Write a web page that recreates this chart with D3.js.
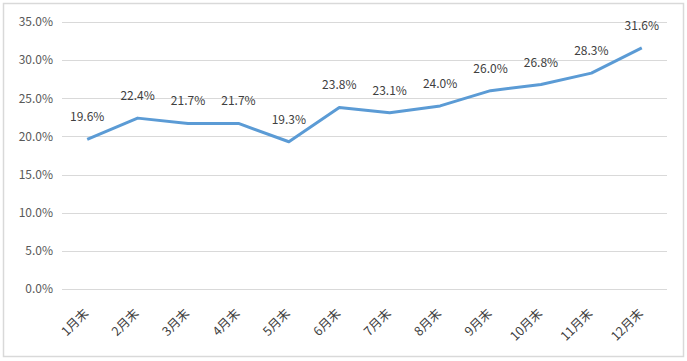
<!DOCTYPE html>
<html>
<head>
    <meta charset="utf-8">
    <style>
        body { margin: 0; background: #fff; }
        .grid line { stroke: #d9d9d9; stroke-width: 1px; }
        .axis text { fill: #595959; font-family: "Noto Sans CJK SC", "DejaVu Sans", sans-serif; font-size: 12px; }
        .xaxis text { fill: #404040; font-size: 12.5px; }
        .line { fill: none; stroke: #5b9bd5; stroke-width: 3px; stroke-linejoin: round; }
        .lbl { fill: #404040; font-family: "Noto Sans CJK SC", "DejaVu Sans", sans-serif; font-size: 12px; }
    </style>
</head>
<body>
    <script src="https://cdn.jsdelivr.net/npm/d3@7"></script>
    <script>
        // data
        var months = ["1月末", "2月末", "3月末", "4月末", "5月末", "6月末",
                      "7月末", "8月末", "9月末", "10月末", "11月末", "12月末"];
        var values = [19.6, 22.4, 21.7, 21.7, 19.3, 23.8, 23.1, 24.0, 26.0, 26.8, 28.3, 31.6];
        var yTicks = [0, 5, 10, 15, 20, 25, 30, 35];

        var W = 687, H = 361;
        var margin = { top: 22, left: 62 },
            width = 667 - margin.left,
            height = 289 - margin.top;

        var svg = d3.select("body").append("svg")
            .attr("width", W)
            .attr("height", H);

        // outer border
        svg.append("rect")
            .attr("x", 3.5).attr("y", 3.5)
            .attr("width", 680).attr("height", 353)
            .attr("fill", "#fff")
            .attr("stroke", "#d9d9d9")
            .attr("stroke-width", 1.5);

        var g = svg.append("g")
            .attr("transform", "translate(" + margin.left + "," + margin.top + ")");

        var x = d3.scaleBand().domain(months).range([0, width]);
        var y = d3.scaleLinear().domain([0, 35]).range([height, 0]);

        // gridlines
        g.append("g")
            .attr("class", "grid")
            .selectAll("line")
            .data(yTicks)
            .enter().append("line")
            .attr("x1", 0).attr("x2", width)
            .attr("y1", function (d) { return Math.round(y(d)) + 0.5; })
            .attr("y2", function (d) { return Math.round(y(d)) + 0.5; });

        // y axis
        var yAxis = g.append("g")
            .attr("class", "axis")
            .call(d3.axisLeft(y).tickValues(yTicks).tickSize(0).tickPadding(9)
                .tickFormat(function (d) { return d.toFixed(1) + "%"; }));
        yAxis.select(".domain").remove();

        // x axis
        var xAxis = g.append("g")
            .attr("class", "axis xaxis")
            .attr("transform", "translate(0," + height + ")")
            .call(d3.axisBottom(x).tickSize(0));
        xAxis.select(".domain").remove();
        xAxis.selectAll("text")
            .attr("transform", "translate(-1,22) rotate(-45)")
            .attr("dy", "0.35em")
            .attr("x", 0).attr("y", 0)
            .style("text-anchor", "end");

        // line
        var valueline = d3.line()
            .x(function (d, i) { return x(months[i]) + x.bandwidth() / 2; })
            .y(function (d) { return y(d); });

        g.append("path")
            .datum(values)
            .attr("class", "line")
            .attr("d", valueline);

        // data labels
        g.selectAll(".lbl")
            .data(values)
            .enter().append("text")
            .attr("class", "lbl")
            .attr("x", function (d, i) { return x(months[i]) + x.bandwidth() / 2; })
            .attr("y", function (d) { return y(d) - 18; })
            .attr("text-anchor", "middle")
            .text(function (d) { return d.toFixed(1) + "%"; });
    </script>
</body>
</html>
